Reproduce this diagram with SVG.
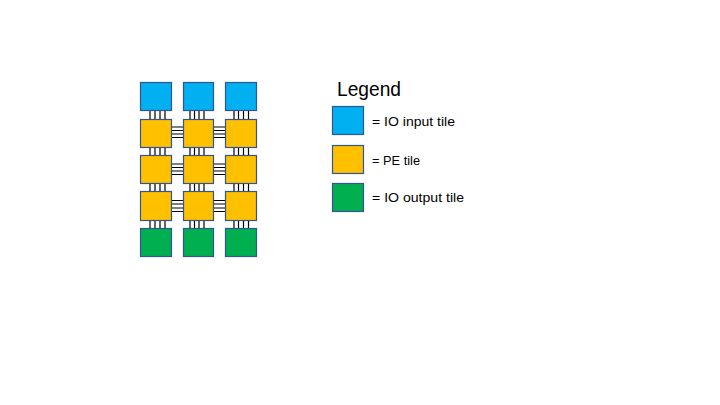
<svg xmlns="http://www.w3.org/2000/svg" width="720" height="405" viewBox="0 0 720 405">
<style>
.t{stroke:#2F5597;stroke-width:1.2}
.in{fill:#00B0F0}
.pe{fill:#FFC000}
.out{fill:#00B050}
.w{stroke:#000;stroke-width:1.2;fill:none}
.lbl{font-family:"Liberation Sans",Arial,sans-serif;font-size:12.5px;fill:#000}
</style>
<rect width="720" height="405" fill="#fff"/>
<g id="connectors" class="w">
<path d="M150,110V119M155,110V119M160,110V119M165,110V119M190,110V119M194.5,110V119M199,110V119M204,110V119M234,110V119M238.5,110V119M243.5,110V119M248.5,110V119"/>
<path d="M150,147V155M155,147V155M160,147V155M165,147V155M190,147V155M194.5,147V155M199,147V155M204,147V155M234,147V155M238.5,147V155M243.5,147V155M248.5,147V155"/>
<path d="M150,183V191M155,183V191M160,183V191M165,183V191M190,183V191M194.5,183V191M199,183V191M204,183V191M234,183V191M238.5,183V191M243.5,183V191M248.5,183V191"/>
<path d="M150,220V228M155,220V228M160,220V228M165,220V228M190,220V228M194.5,220V228M199,220V228M204,220V228M234,220V228M238.5,220V228M243.5,220V228M248.5,220V228"/>
<path d="M172,127H183M172,130.5H183M172,134H183M172,137.5H183M213,127H225M213,130.5H225M213,134H225M213,137.5H225"/>
<path d="M172,164H183M172,167.5H183M172,171H183M172,174.5H183M213,164H225M213,167.5H225M213,171H225M213,174.5H225"/>
<path d="M172,200.5H183M172,204H183M172,208H183M172,211.5H183M213,200.5H225M213,204H225M213,208H225M213,211.5H225"/>
</g>
<g id="in1"><rect class="t in" x="140.5" y="82.5" width="31" height="28"/></g>
<g id="in2"><rect class="t in" x="183.5" y="82.5" width="30" height="28"/></g>
<g id="in3"><rect class="t in" x="225.5" y="82.5" width="31" height="28"/></g>
<g id="pe11"><rect class="t pe" x="140.5" y="119.5" width="31" height="28"/></g>
<g id="pe12"><rect class="t pe" x="183.5" y="119.5" width="30" height="28"/></g>
<g id="pe13"><rect class="t pe" x="225.5" y="119.5" width="31" height="28"/></g>
<g id="pe21"><rect class="t pe" x="140.5" y="155.5" width="31" height="28"/></g>
<g id="pe22"><rect class="t pe" x="183.5" y="155.5" width="30" height="28"/></g>
<g id="pe23"><rect class="t pe" x="225.5" y="155.5" width="31" height="28"/></g>
<g id="pe31"><rect class="t pe" x="140.5" y="191.5" width="31" height="29"/></g>
<g id="pe32"><rect class="t pe" x="183.5" y="191.5" width="30" height="29"/></g>
<g id="pe33"><rect class="t pe" x="225.5" y="191.5" width="31" height="29"/></g>
<g id="out1"><rect class="t out" x="140.5" y="228.5" width="31" height="28"/></g>
<g id="out2"><rect class="t out" x="183.5" y="228.5" width="30" height="28"/></g>
<g id="out3"><rect class="t out" x="225.5" y="228.5" width="31" height="28"/></g>
<g id="legend">
<text x="337" y="96" font-family="'Liberation Sans',Arial,sans-serif" font-size="19.5" textLength="64" lengthAdjust="spacingAndGlyphs">Legend</text>
<rect class="t in" x="332.5" y="106.5" width="31" height="28"/>
<rect class="t pe" x="332.5" y="145.5" width="31" height="28"/>
<rect class="t out" x="332.5" y="183.5" width="31" height="28"/>
<text class="lbl" x="372" y="125.5" textLength="83" lengthAdjust="spacingAndGlyphs">= IO input tile</text>
<text class="lbl" x="372" y="165" textLength="48" lengthAdjust="spacingAndGlyphs">= PE tile</text>
<text class="lbl" x="372" y="201.5" textLength="92" lengthAdjust="spacingAndGlyphs">= IO output tile</text>
</g>
</svg>
